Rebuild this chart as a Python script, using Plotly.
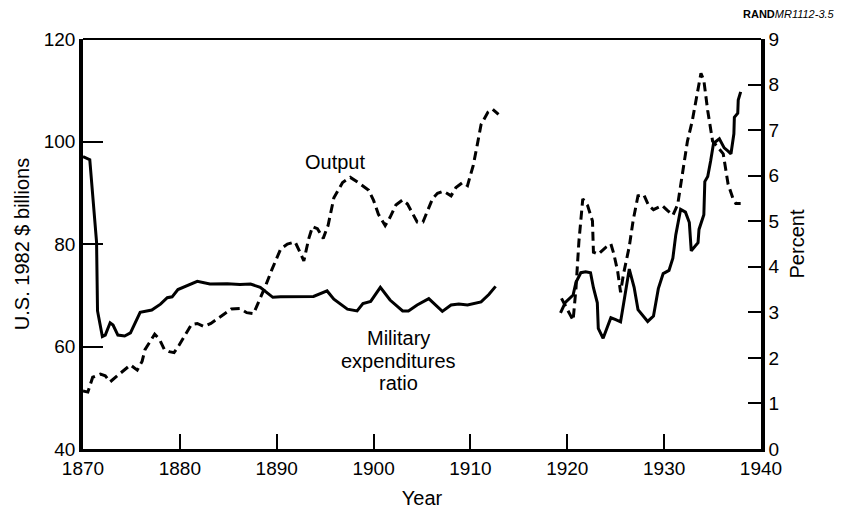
import plotly.graph_objects as go

# ---- Data ----
output_years_prewar = [1870.0, 1870.5, 1871.0, 1871.8, 1872.3, 1872.8, 1873.8, 1874.9, 1875.6, 1876.1,
                       1876.4, 1877.4, 1877.9, 1878.4, 1878.9, 1879.4, 1879.9, 1881.2, 1881.8, 1882.5,
                       1883.2, 1884.0, 1885.3, 1886.2, 1886.9, 1887.6, 1888.3, 1888.8, 1889.5, 1890.4,
                       1891.1, 1891.9, 1892.4, 1892.8, 1893.3, 1893.7, 1894.2, 1894.8, 1895.3, 1895.9,
                       1896.8, 1897.6, 1898.4, 1899.5, 1900.0, 1900.5, 1901.2, 1901.7, 1902.3, 1903.0,
                       1903.5, 1904.0, 1904.5, 1905.1, 1905.6, 1906.1, 1906.6, 1907.2, 1908.0, 1908.5,
                       1909.2, 1909.7, 1910.0, 1910.3, 1910.7, 1911.1, 1911.8, 1912.3, 1912.9]
output_vals_prewar = [51.3, 51.1, 54.0, 54.6, 54.3, 53.1, 54.7, 56.4, 55.4, 57.1,
                      59.4, 62.4, 61.4, 59.4, 59.0, 58.8, 60.2, 64.3, 64.5, 63.9,
                      64.5, 65.5, 67.3, 67.4, 66.6, 66.4, 69.4, 71.6, 75.0, 79.0,
                      80.0, 80.4, 78.4, 76.7, 81.0, 83.4, 83.0, 81.1, 83.6, 89.0,
                      92.0, 93.0, 92.0, 90.5, 88.5, 85.8, 83.6, 85.2, 87.6, 88.6,
                      87.8, 85.9, 84.3, 84.3, 86.7, 88.9, 89.9, 90.3, 89.4, 91.0,
                      92.0, 91.4, 93.4, 95.4, 99.3, 103.3, 105.7, 106.3, 105.3]

output_years_interwar = [1919.4, 1920.6, 1920.9, 1921.2, 1921.6, 1922.1, 1922.6, 1922.7, 1923.2, 1924.0,
                         1924.5, 1924.8, 1925.2, 1925.5, 1925.8, 1926.4, 1926.8, 1927.3, 1927.9, 1928.4,
                         1928.9, 1929.8, 1930.3, 1930.9, 1931.4, 1931.9, 1932.4, 1932.9, 1933.3, 1933.8,
                         1934.1, 1934.5, 1935.0, 1935.6, 1936.1, 1936.6, 1937.1, 1937.4, 1937.9]
output_vals_interwar = [69.4, 65.1, 71.4, 80.5, 88.8, 87.5, 84.5, 78.4, 78.0, 79.4,
                        80.0, 78.1, 74.7, 70.6, 74.1, 79.5, 84.6, 89.4, 89.6, 87.5,
                        86.7, 87.5, 86.6, 85.6, 87.7, 93.5, 100.0, 104.0, 108.5, 113.3,
                        111.9, 106.0, 100.1, 98.7, 97.6, 91.7, 88.9, 87.9, 87.9]

mil_years_prewar = [1870.0, 1870.7, 1871.4, 1871.5, 1872.0, 1872.3, 1872.8, 1873.1, 1873.6, 1874.3,
                    1874.9, 1875.4, 1875.9, 1877.1, 1878.0, 1878.7, 1879.2, 1879.8, 1880.8, 1881.8,
                    1883.1, 1884.9, 1886.2, 1887.3, 1888.3, 1889.0, 1889.6, 1890.4, 1893.8, 1895.2,
                    1895.9, 1897.3, 1898.3, 1898.9, 1899.7, 1900.7, 1901.7, 1903.0, 1903.6, 1904.5,
                    1905.7, 1907.1, 1908.0, 1908.8, 1909.7, 1911.1, 1911.9, 1912.6]
mil_pct_prewar = [6.42, 6.35, 4.54, 3.03, 2.47, 2.50, 2.77, 2.72, 2.50, 2.48,
                  2.55, 2.78, 3.00, 3.05, 3.18, 3.32, 3.34, 3.50, 3.59, 3.68,
                  3.62, 3.63, 3.61, 3.62, 3.55, 3.44, 3.33, 3.34, 3.35, 3.47,
                  3.29, 3.07, 3.03, 3.19, 3.24, 3.55, 3.27, 3.03, 3.03, 3.16,
                  3.30, 3.02, 3.16, 3.18, 3.16, 3.23, 3.39, 3.57]

mil_years_interwar = [1919.3, 1919.8, 1920.6, 1920.9, 1921.4, 1921.9, 1922.4, 1922.7, 1923.1, 1923.2,
                      1923.7, 1924.0, 1924.5, 1925.0, 1925.5, 1925.8, 1926.3, 1926.4, 1926.9, 1927.3,
                      1928.3, 1928.9, 1929.4, 1929.9, 1930.5, 1930.9, 1931.2, 1931.7, 1932.2, 1932.6,
                      1932.8, 1933.5, 1933.6, 1934.1, 1934.2, 1934.5, 1934.8, 1935.1, 1935.7, 1936.2,
                      1936.6, 1936.9, 1937.2, 1937.25, 1937.6, 1937.65, 1937.9]
mil_pct_interwar = [2.99, 3.22, 3.38, 3.66, 3.87, 3.89, 3.87, 3.54, 3.21, 2.65,
                    2.43, 2.61, 2.88, 2.84, 2.79, 3.17, 3.84, 3.95, 3.55, 3.06,
                    2.80, 2.92, 3.52, 3.85, 3.92, 4.19, 4.70, 5.26, 5.20, 4.97,
                    4.35, 4.53, 4.82, 5.14, 5.87, 5.98, 6.32, 6.71, 6.81, 6.61,
                    6.54, 6.48, 6.92, 7.28, 7.37, 7.66, 7.84]

x_ticks = [1870, 1880, 1890, 1900, 1910, 1920, 1930, 1940]
left_ticks = [40, 60, 80, 100, 120]
right_ticks = [0, 1, 2, 3, 4, 5, 6, 7, 8, 9]

FONT = "Liberation Sans, Arial, Helvetica, sans-serif"

fig = go.Figure()

dash_style = dict(color="black", width=3, dash="9px,5px")
solid_style = dict(color="black", width=3)

fig.add_trace(go.Scatter(x=output_years_prewar, y=output_vals_prewar, mode="lines",
                         line=dash_style, yaxis="y", showlegend=False, hoverinfo="skip"))
fig.add_trace(go.Scatter(x=output_years_interwar, y=output_vals_interwar, mode="lines",
                         line=dash_style, yaxis="y", showlegend=False, hoverinfo="skip"))
fig.add_trace(go.Scatter(x=mil_years_prewar, y=mil_pct_prewar, mode="lines",
                         line=solid_style, yaxis="y2", showlegend=False, hoverinfo="skip"))
fig.add_trace(go.Scatter(x=mil_years_interwar, y=mil_pct_interwar, mode="lines",
                         line=solid_style, yaxis="y2", showlegend=False, hoverinfo="skip"))

# the page body adds an 8px offset, so the figure is 8px smaller and shifted margins compensate
fig.update_layout(
    width=834, height=517,
    margin=dict(l=75, r=81, t=31, b=76),
    paper_bgcolor="white", plot_bgcolor="white",
    font=dict(family=FONT, size=19, color="black"),
    xaxis=dict(range=[1870, 1940], tickvals=x_ticks, ticks="inside", ticklen=15, tickwidth=1.5,
               tickcolor="black", showline=True, linewidth=3, linecolor="black",
               showgrid=False, zeroline=False,
               title=dict(text="Year", font=dict(size=20), standoff=14)),
    yaxis=dict(range=[40, 120], tickvals=left_ticks, ticks="inside", ticklen=20, tickwidth=1.5,
               tickcolor="black", showline=True, linewidth=3.5, linecolor="black",
               showgrid=False, zeroline=False,
               title=dict(text="U.S. 1982 $ billions", font=dict(size=20), standoff=10)),
    yaxis2=dict(range=[0, 9], tickvals=right_ticks, ticks="inside", ticklen=13, tickwidth=1.5,
                tickcolor="black", showline=True, linewidth=3.5, linecolor="black",
                overlaying="y", side="right", showgrid=False, zeroline=False,
                title=dict(text="Percent", font=dict(size=20), standoff=12)),
    shapes=[dict(type="line", xref="paper", yref="paper", x0=0, x1=1, y0=1, y1=1,
                 line=dict(color="black", width=2))],
    annotations=[
        dict(text="Output", x=1896.0, y=96.0, xref="x", yref="y", showarrow=False,
             font=dict(size=20)),
        dict(text="Military", x=1902.6, y=61.7, xref="x", yref="y", showarrow=False,
             font=dict(size=20)),
        dict(text="expenditures", x=1902.6, y=57.2, xref="x", yref="y", showarrow=False,
             font=dict(size=20)),
        dict(text="ratio", x=1902.6, y=52.9, xref="x", yref="y", showarrow=False,
             font=dict(size=20)),
        dict(text="<b>RAND</b><i>MR1112-3.5</i>", x=1.112, y=1.061, xref="paper", yref="paper",
             xanchor="right", yanchor="middle", showarrow=False, font=dict(size=11)),
    ],
)

fig.write_html("out.html")
